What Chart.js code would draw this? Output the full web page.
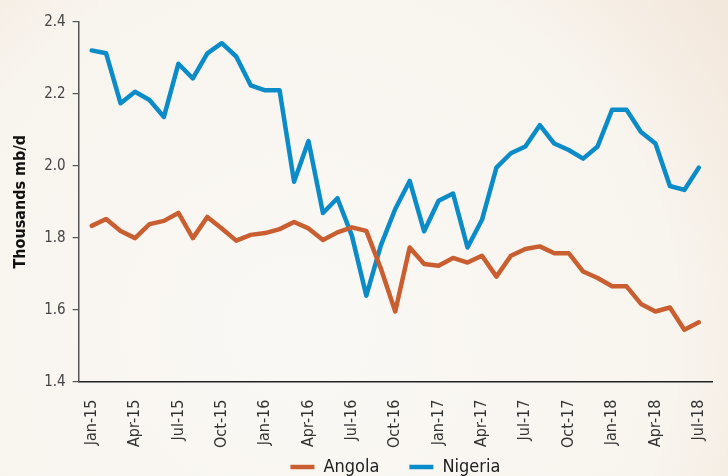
<!DOCTYPE html>
<html>
<head>
<meta charset="utf-8">
<script src="https://cdn.jsdelivr.net/npm/chart.js@4"></script>
<style>
  html, body { margin: 0; padding: 0; }
  #wrap { width: 728px; height: 476px; }
</style>
</head>
<body>
<div id="wrap"><canvas id="chart_main"></canvas></div>
<script>
// monthly data, Jan-15 .. Jul-18
const months = ['Jan-15','Feb-15','Mar-15','Apr-15','May-15','Jun-15','Jul-15','Aug-15','Sep-15','Oct-15','Nov-15','Dec-15',
    'Jan-16','Feb-16','Mar-16','Apr-16','May-16','Jun-16','Jul-16','Aug-16','Sep-16','Oct-16','Nov-16','Dec-16',
    'Jan-17','Feb-17','Mar-17','Apr-17','May-17','Jun-17','Jul-17','Aug-17','Sep-17','Oct-17','Nov-17','Dec-17',
    'Jan-18','Feb-18','Mar-18','Apr-18','May-18','Jun-18','Jul-18'];
const angola = [1.833,1.852,1.819,1.799,1.838,1.847,1.869,1.799,1.858,1.826,1.792,1.808,
    1.813,1.824,1.844,1.826,1.794,1.815,1.829,1.819,1.715,1.595,1.773,1.727,
    1.722,1.744,1.731,1.750,1.692,1.750,1.769,1.776,1.757,1.757,1.706,1.688,
    1.665,1.665,1.616,1.595,1.606,1.544,1.565];
const nigeria = [2.321,2.313,2.174,2.206,2.183,2.136,2.284,2.243,2.313,2.341,2.304,2.224,
    2.210,2.210,1.956,2.069,1.869,1.910,1.806,1.639,1.778,1.880,1.958,1.818,
    1.903,1.923,1.773,1.850,1.995,2.035,2.054,2.113,2.062,2.044,2.020,2.054,
    2.156,2.156,2.094,2.062,1.944,1.933,1.995];
const tickEvery = 3;
const yTicks = [1.4, 1.6, 1.8, 2.0, 2.2, 2.4];

const FONT = "'Liberation Sans Narrow', 'DejaVu Sans Condensed', 'Roboto', sans-serif";

const toPoints = (arr) => arr.map((v, i) => ({x: i, y: v}));

// paper-ish background
const bgPlugin = {
    id: 'bg',
    beforeDraw(chart) {
        const {ctx, width, height} = chart;
        const g = ctx.createRadialGradient(300, 330, 50, 300, 330, 520);
        g.addColorStop(0, '#faf8f4');
        g.addColorStop(0.7, '#f8f4ee');
        g.addColorStop(1, '#f3e8dc');
        ctx.save();
        ctx.fillStyle = g;
        ctx.fillRect(0, 0, width, height);
        ctx.restore();
    }
};

// legend: wide gap between items but a short box, centred under the plot
const legendFix = {
    id: 'legendFix',
    beforeLayout(chart) {
        const lg = chart.legend;
        if (lg && !lg._patched) {
            const fit = lg.fit.bind(lg);
            lg.fit = function () { fit(); this.height = 18; };
            lg._patched = true;
        }
    },
    afterLayout(chart) {
        const lg = chart.legend;
        const shift = (chart.chartArea.left + chart.chartArea.right) / 2 - (lg.left + lg.right) / 2;
        lg.left += shift;
        lg.right += shift;
        lg.top -= 30;
    }
};

const ctx = document.getElementById('chart_main').getContext('2d');
const chart = new Chart(ctx, {
    type: 'line',
    data: {
        datasets: [{
            label: 'Angola',
            data: toPoints(angola),
            borderColor: '#c95f30',
            backgroundColor: '#c95f30',
            borderWidth: 4.5,
            borderJoinStyle: 'round',
            borderCapStyle: 'round',
            pointRadius: 0,
            tension: 0
        }, {
            label: 'Nigeria',
            data: toPoints(nigeria),
            borderColor: '#0b8bc7',
            backgroundColor: '#0b8bc7',
            borderWidth: 4.5,
            borderJoinStyle: 'round',
            borderCapStyle: 'round',
            pointRadius: 0,
            tension: 0
        }]
    },
    options: {
        responsive: true,
        maintainAspectRatio: false,
        animation: false,
        layout: { padding: { top: 22, right: 0, left: 11, bottom: 0 } },
        plugins: {
            tooltip: { enabled: false },
            legend: {
                position: 'bottom',
                labels: {
                    usePointStyle: true,
                    pointStyle: 'line',
                    pointStyleWidth: 24,
                    boxHeight: 6,
                    padding: 30,
                    color: '#222',
                    font: { family: FONT, size: 18 }
                }
            }
        },
        scales: {
            x: {
                type: 'linear',
                min: -0.9,
                max: 42.92,
                afterBuildTicks: (scale) => {
                    scale.ticks = months.map((m, i) => ({value: i})).filter(t => t.value % tickEvery === 0);
                },
                grid: { display: false },
                border: { display: true, color: '#222', width: 1.5 },
                ticks: {
                    autoSkip: false,
                    maxRotation: 90,
                    minRotation: 90,
                    padding: 10,
                    color: '#333',
                    font: { family: FONT, size: 16 },
                    callback: (v) => months[v]
                }
            },
            y: {
                min: 1.4,
                max: 2.4,
                afterBuildTicks: (scale) => {
                    scale.ticks = yTicks.map(v => ({value: v}));
                },
                grid: { display: true, drawOnChartArea: false, tickLength: 6, color: '#555', lineWidth: 1.2 },
                border: { display: true, color: '#555', width: 1.5 },
                ticks: {
                    padding: 7,
                    color: '#444',
                    font: { family: FONT, size: 15 },
                    callback: (v) => v.toFixed(1)
                },
                title: {
                    display: true,
                    text: 'Thousands mb/d',
                    color: '#111',
                    font: { family: FONT, size: 16, weight: 'bold' },
                    padding: { top: 0, bottom: 7 }
                }
            }
        }
    },
    plugins: [bgPlugin, legendFix]
});
</script>
</body>
</html>
